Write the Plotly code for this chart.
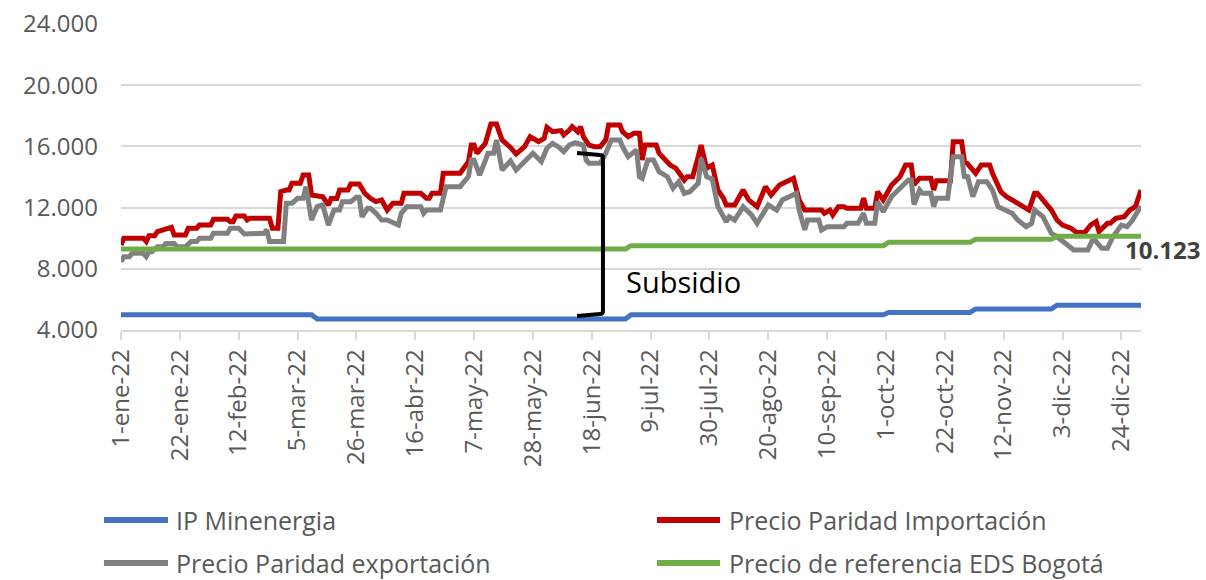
import plotly.graph_objects as go

# ---------------- data ----------------
blue_dates = ["2022-01-01", "2022-03-10", "2022-03-12", "2022-06-30", "2022-07-02",
              "2022-09-30", "2022-10-02", "2022-10-31", "2022-11-02", "2022-11-29",
              "2022-12-01", "2022-12-31"]
blue_vals = [5000, 5000, 4720, 4720, 5000, 5000, 5150, 5150, 5380, 5380, 5620, 5620]

green_dates = ["2022-01-01", "2022-06-30", "2022-07-02", "2022-09-30", "2022-10-02",
               "2022-10-31", "2022-11-02", "2022-11-29", "2022-12-01", "2022-12-31"]
green_vals = [9300, 9300, 9510, 9510, 9730, 9730, 9930, 9930, 10123, 10123]

red_dates = [
    "2022-01-01", "2022-01-02", "2022-01-09", "2022-01-10", "2022-01-11", "2022-01-13", "2022-01-14", "2022-01-17",
    "2022-01-19", "2022-01-20", "2022-01-24", "2022-01-25", "2022-01-28", "2022-01-29", "2022-02-02", "2022-02-03",
    "2022-02-08", "2022-02-09", "2022-02-10", "2022-02-11", "2022-02-14", "2022-02-15", "2022-02-16", "2022-02-23",
    "2022-02-24", "2022-02-26", "2022-02-27", "2022-03-01", "2022-03-02", "2022-03-03", "2022-03-06", "2022-03-07",
    "2022-03-09", "2022-03-10", "2022-03-13", "2022-03-14", "2022-03-16", "2022-03-17", "2022-03-19", "2022-03-20",
    "2022-03-23", "2022-03-24", "2022-03-27", "2022-03-29", "2022-03-31", "2022-04-02", "2022-04-04", "2022-04-06",
    "2022-04-08", "2022-04-11", "2022-04-12", "2022-04-18", "2022-04-20", "2022-04-21", "2022-04-22", "2022-04-25",
    "2022-04-26", "2022-05-02", "2022-05-05", "2022-05-06", "2022-05-07", "2022-05-08", "2022-05-11", "2022-05-13",
    "2022-05-15", "2022-05-17", "2022-05-20", "2022-05-22", "2022-05-25", "2022-05-27", "2022-05-30", "2022-06-01",
    "2022-06-02", "2022-06-04", "2022-06-07", "2022-06-08", "2022-06-10", "2022-06-11", "2022-06-13", "2022-06-14",
    "2022-06-15", "2022-06-17", "2022-06-19", "2022-06-21", "2022-06-23", "2022-06-24", "2022-06-28", "2022-06-29",
    "2022-07-01", "2022-07-03", "2022-07-05", "2022-07-06", "2022-07-07", "2022-07-11", "2022-07-12", "2022-07-14",
    "2022-07-16", "2022-07-18", "2022-07-20", "2022-07-21", "2022-07-22", "2022-07-24", "2022-07-26", "2022-07-27",
    "2022-07-29", "2022-07-31", "2022-08-02", "2022-08-04", "2022-08-05", "2022-08-08", "2022-08-11", "2022-08-13",
    "2022-08-16", "2022-08-19", "2022-08-21", "2022-08-24", "2022-08-29", "2022-08-31", "2022-09-02", "2022-09-08",
    "2022-09-09", "2022-09-11", "2022-09-12", "2022-09-14", "2022-09-16", "2022-09-17", "2022-09-22", "2022-09-23",
    "2022-09-24", "2022-09-27", "2022-09-28", "2022-09-30", "2022-10-03", "2022-10-06", "2022-10-08", "2022-10-10",
    "2022-10-11", "2022-10-13", "2022-10-17", "2022-10-18", "2022-10-19", "2022-10-24", "2022-10-25", "2022-10-28",
    "2022-10-29", "2022-10-30", "2022-11-02", "2022-11-04", "2022-11-07", "2022-11-08", "2022-11-11", "2022-11-13",
    "2022-11-16", "2022-11-18", "2022-11-21", "2022-11-23", "2022-11-24", "2022-11-26", "2022-11-29", "2022-12-01",
    "2022-12-03", "2022-12-06", "2022-12-08", "2022-12-11", "2022-12-13", "2022-12-15", "2022-12-16", "2022-12-19",
    "2022-12-20", "2022-12-22", "2022-12-25", "2022-12-27", "2022-12-29", "2022-12-31",
]
red_vals = [
    9560, 9990, 9990, 9780, 10165, 10165, 10430, 10600,
    10710, 10210, 10210, 10650, 10650, 10860, 10860, 11235,
    11235, 11080, 11080, 11450, 11450, 11190, 11300, 11300,
    10650, 10650, 13040, 13150, 13150, 13590, 13590, 14130,
    14130, 12820, 12710, 12710, 12170, 12600, 12600, 13150,
    13150, 13540, 13540, 12930, 12610, 12390, 12500, 11840,
    12280, 12280, 12930, 12930, 12610, 12610, 12930, 12930,
    14240, 14240, 15000, 16090, 16090, 15550, 16200, 17460,
    17460, 16420, 15930, 15500, 15980, 16640, 16310, 16530,
    17250, 16960, 17030, 16750, 17070, 17290, 16960, 17290,
    16640, 16090, 15980, 15980, 16420, 17400, 17400, 16960,
    16640, 16860, 16860, 15110, 16090, 16090, 15550, 15110,
    14780, 14570, 14130, 13800, 14020, 14020, 15330, 16090,
    14570, 14780, 13150, 12610, 12170, 12170, 13150, 12500,
    12060, 13370, 12820, 13480, 13920, 12500, 11840, 11840,
    11630, 11840, 11520, 12060, 12060, 11950, 11950, 12610,
    11950, 11950, 13040, 12500, 13480, 14020, 14780, 14780,
    13500, 13920, 13920, 13150, 13760, 13760, 16310, 16310,
    15000, 14890, 14240, 14780, 14780, 14240, 13040, 12710,
    12390, 12170, 11840, 12930, 12930, 12500, 11840, 11190,
    10860, 10650, 10380, 10380, 10860, 11080, 10430, 10970,
    10970, 11300, 11410, 11840, 12060, 13150,
]

gray_dates = [
    "2022-01-01", "2022-01-02", "2022-01-04", "2022-01-05", "2022-01-09", "2022-01-10", "2022-01-11", "2022-01-12",
    "2022-01-14", "2022-01-16", "2022-01-17", "2022-01-20", "2022-01-21", "2022-01-24", "2022-01-26", "2022-01-28",
    "2022-01-29", "2022-02-02", "2022-02-03", "2022-02-08", "2022-02-09", "2022-02-12", "2022-02-14", "2022-02-15",
    "2022-02-17", "2022-02-21", "2022-02-22", "2022-02-23", "2022-02-28", "2022-03-01", "2022-03-03", "2022-03-05",
    "2022-03-07", "2022-03-08", "2022-03-10", "2022-03-12", "2022-03-14", "2022-03-16", "2022-03-18", "2022-03-20",
    "2022-03-21", "2022-03-24", "2022-03-26", "2022-03-27", "2022-03-28", "2022-03-30", "2022-03-31", "2022-04-02",
    "2022-04-04", "2022-04-06", "2022-04-10", "2022-04-11", "2022-04-13", "2022-04-18", "2022-04-19", "2022-04-20",
    "2022-04-25", "2022-04-27", "2022-05-02", "2022-05-05", "2022-05-06", "2022-05-07", "2022-05-09", "2022-05-12",
    "2022-05-14", "2022-05-15", "2022-05-17", "2022-05-20", "2022-05-22", "2022-05-25", "2022-05-28", "2022-05-31",
    "2022-06-02", "2022-06-04", "2022-06-06", "2022-06-08", "2022-06-10", "2022-06-12", "2022-06-15", "2022-06-16",
    "2022-06-17", "2022-06-21", "2022-06-23", "2022-06-25", "2022-06-28", "2022-06-29", "2022-07-01", "2022-07-04",
    "2022-07-05", "2022-07-06", "2022-07-08", "2022-07-10", "2022-07-12", "2022-07-15", "2022-07-17", "2022-07-19",
    "2022-07-21", "2022-07-23", "2022-07-26", "2022-07-27", "2022-07-29", "2022-07-31", "2022-08-02", "2022-08-05",
    "2022-08-06", "2022-08-08", "2022-08-11", "2022-08-14", "2022-08-16", "2022-08-20", "2022-08-23", "2022-08-25",
    "2022-08-30", "2022-08-31", "2022-09-02", "2022-09-03", "2022-09-07", "2022-09-08", "2022-09-10", "2022-09-16",
    "2022-09-17", "2022-09-21", "2022-09-23", "2022-09-24", "2022-09-27", "2022-09-28", "2022-09-30", "2022-10-03",
    "2022-10-07", "2022-10-09", "2022-10-10", "2022-10-11", "2022-10-13", "2022-10-14", "2022-10-17", "2022-10-18",
    "2022-10-19", "2022-10-23", "2022-10-25", "2022-10-28", "2022-10-29", "2022-10-30", "2022-11-01", "2022-11-03",
    "2022-11-06", "2022-11-08", "2022-11-10", "2022-11-13", "2022-11-15", "2022-11-17", "2022-11-20", "2022-11-22",
    "2022-11-23", "2022-11-26", "2022-11-29", "2022-12-01", "2022-12-03", "2022-12-07", "2022-12-12", "2022-12-14",
    "2022-12-15", "2022-12-17", "2022-12-19", "2022-12-21", "2022-12-24", "2022-12-26", "2022-12-28", "2022-12-31",
]
gray_vals = [
    8465, 8790, 8790, 9010, 9010, 8790, 9120, 9120,
    9440, 9440, 9660, 9660, 9440, 9440, 9780, 9780,
    9990, 9990, 10320, 10320, 10650, 10650, 10275, 10275,
    10320, 10320, 10540, 9780, 9780, 12280, 12280, 12610,
    12610, 13370, 11190, 12060, 12170, 10860, 11840, 11840,
    12390, 12390, 12670, 12670, 11400, 11950, 11950, 11630,
    11190, 11190, 10860, 11630, 12060, 12060, 11630, 11840,
    11840, 13370, 13370, 14030, 15110, 15110, 14130, 15550,
    15550, 16420, 14460, 15050, 14460, 15000, 15550, 15000,
    15880, 16200, 15980, 15660, 16090, 16240, 16090, 15110,
    14900, 14900, 15550, 16420, 16420, 15980, 15330, 15770,
    14020, 13920, 15110, 15110, 14350, 14020, 13260, 13690,
    12930, 13040, 13590, 15220, 14020, 13860, 12060, 11080,
    11410, 11190, 12060, 11520, 10970, 12170, 11840, 12500,
    12930, 11840, 10540, 11190, 11190, 10540, 10750, 10750,
    10970, 10970, 11630, 10970, 10970, 12390, 11730, 12720,
    13480, 13800, 13800, 12200, 13150, 12930, 12930, 12060,
    12610, 12610, 15330, 15330, 13920, 14130, 12710, 13690,
    13690, 13150, 12060, 11840, 11630, 11190, 10750, 10970,
    11840, 11410, 10320, 10100, 9780, 9230, 9230, 9990,
    9780, 9340, 9340, 10100, 10860, 10750, 11190, 12110,
]

tick_dates = ["2022-01-01", "2022-01-22", "2022-02-12", "2022-03-05", "2022-03-26", "2022-04-16",
              "2022-05-07", "2022-05-28", "2022-06-18", "2022-07-09", "2022-07-30", "2022-08-20",
              "2022-09-10", "2022-10-01", "2022-10-22", "2022-11-12", "2022-12-03", "2022-12-24"]
tick_labels = ["1-ene-22", "22-ene-22", "12-feb-22", "5-mar-22", "26-mar-22", "16-abr-22",
               "7-may-22", "28-may-22", "18-jun-22", "9-jul-22", "30-jul-22", "20-ago-22",
               "10-sep-22", "1-oct-22", "22-oct-22", "12-nov-22", "3-dic-22", "24-dic-22"]

names = ["IP Minenergia", "Precio Paridad Importación",
         "Precio Paridad exportación", "Precio de referencia EDS Bogotá"]
colors = ["#4472C4", "#C00000", "#808080", "#70AD47"]

# ---------------- figure ----------------
FONT = "Open Sans"
TXT = "#595959"

fig = go.Figure()
series = [(blue_dates, blue_vals), (red_dates, red_vals), (gray_dates, gray_vals), (green_dates, green_vals)]
for (d, v), n, c in zip(series, names, colors):
    fig.add_trace(go.Scatter(x=d, y=v, mode="lines", name=n,
                             line=dict(color=c, width=5), showlegend=False,
                             hoverinfo="x+y+name"))

fig.update_layout(
    width=1206, height=580,
    margin=dict(l=121, r=65, t=24, b=250),
    paper_bgcolor="white", plot_bgcolor="white",
    separators=",.",
    font=dict(family=FONT, color=TXT, size=24),
    showlegend=False,
)
fig.update_xaxes(
    type="date", range=["2022-01-01", "2022-12-31"],
    tickvals=tick_dates, ticktext=tick_labels, tickangle=-90,
    tickfont=dict(family=FONT, size=24, color=TXT),
    showgrid=False, showline=True, linecolor="#D9D9D9", linewidth=1.5,
    ticks="outside", ticklen=8, tickcolor="#D9D9D9", tickwidth=1.5,
    zeroline=False, automargin=False,
)
fig.update_yaxes(
    range=[4000, 24000], dtick=4000, tick0=4000, tickformat=",d",
    tickfont=dict(family=FONT, size=24, color=TXT),
    showgrid=True, gridcolor="#D9D9D9", gridwidth=1.5,
    zeroline=False, showline=False, ticks="", ticklabelstandoff=22,
    automargin=False,
)

# Subsidio bracket
fig.add_shape(type="path", xref="paper", yref="paper",
              path="M 0.4471,0.5784 L 0.4696,0.5719 Q 0.4725,0.5719 0.4725,0.5621 "
                   "L 0.4725,0.0621 Q 0.4725,0.0523 0.4696,0.0523 L 0.4471,0.0458",
              line=dict(color="black", width=4))
fig.add_annotation(xref="paper", yref="paper", x=0.4931, y=0.157, text="Subsidio",
                   showarrow=False, xanchor="left", yanchor="middle",
                   font=dict(family=FONT, size=29, color="black"))

# last value label
fig.add_annotation(x=green_dates[-1], y=green_vals[-1], text="<b>10.123</b>",
                   showarrow=False, xanchor="left", yanchor="middle", xshift=-18, yshift=-13,
                   font=dict(family=FONT, size=24, color="#404040"))

# manual legend
leg_rows = [-0.6209, -0.6209, -0.7614, -0.7614]
leg_x0 = [-0.0167, 0.5255, -0.0167, 0.5255]
leg_x1 = [0.0461, 0.5873, 0.0461, 0.5873]
leg_tx = [0.052, 0.594, 0.052, 0.594]
for n, c, yy, a, b, t in zip(names, colors, leg_rows, leg_x0, leg_x1, leg_tx):
    fig.add_shape(type="line", xref="paper", yref="paper", x0=a, x1=b, y0=yy, y1=yy,
                  line=dict(color=c, width=6))
    fig.add_annotation(xref="paper", yref="paper", x=t, y=yy, text=n, showarrow=False,
                       xanchor="left", yanchor="middle",
                       font=dict(family=FONT, size=25, color=TXT))

fig.write_html("out.html", config={"displayModeBar": False},
               post_script="document.body.style.margin='0';document.body.style.overflow='hidden';")
